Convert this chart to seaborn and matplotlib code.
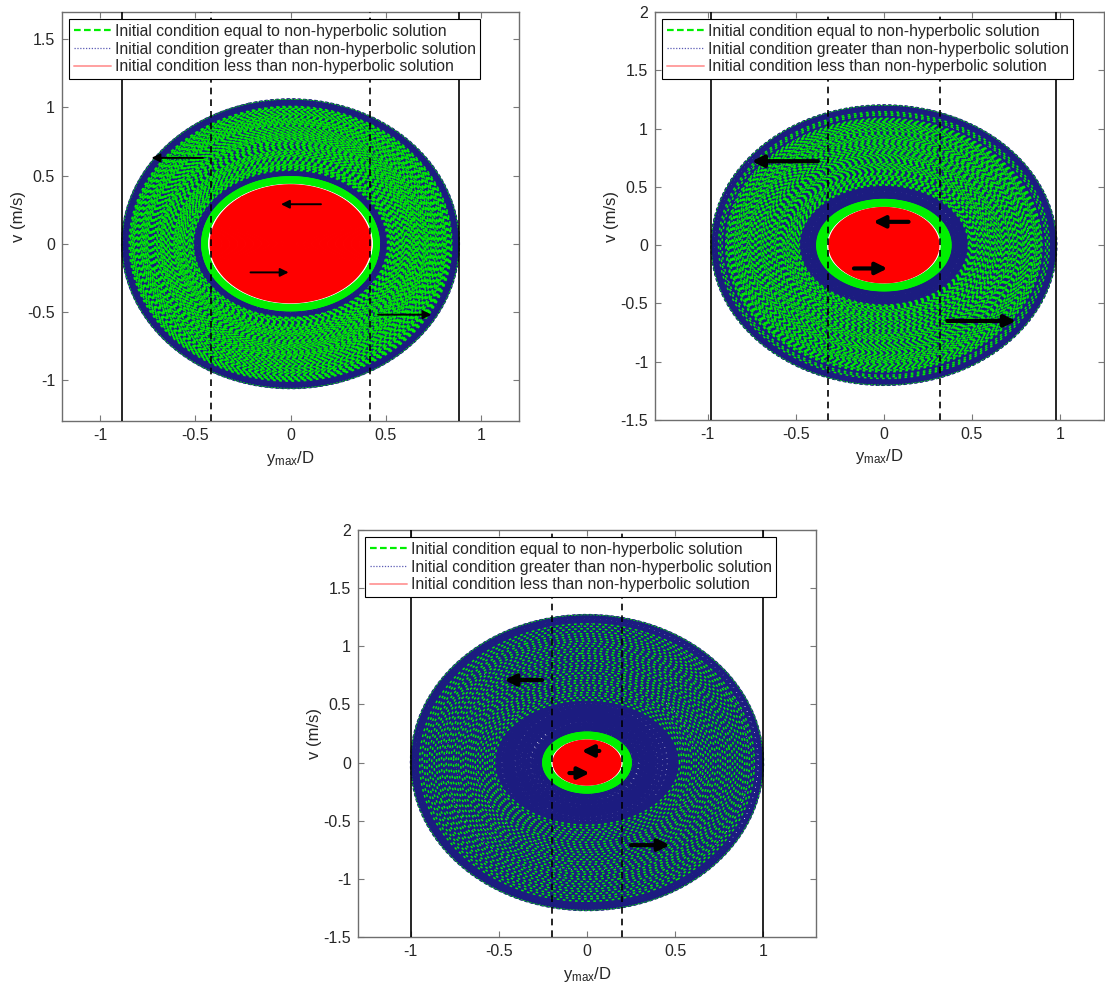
import numpy as np
import pandas as pd
import matplotlib
matplotlib.use("Agg")
import matplotlib.pyplot as plt
import seaborn as sns
from matplotlib.lines import Line2D

# ---------------------------------------------------------------- data
legend_labels = [
    "Initial condition equal to non-hyperbolic solution",
    "Initial condition greater than non-hyperbolic solution",
    "Initial condition less than non-hyperbolic solution",
]
x_ticks = [-1, -0.5, 0, 0.5, 1]
x_tick_labels = ["-1", "-0.5", "0", "0.5", "1"]
y_ticks_top_left = [-1, -0.5, 0, 0.5, 1, 1.5]
y_tick_labels_top_left = ["-1", "-0.5", "0", "0.5", "1", "1.5"]
y_ticks_other = [-1.5, -1, -0.5, 0, 0.5, 1, 1.5, 2]
y_tick_labels_other = ["-1.5", "-1", "-0.5", "0", "0.5", "1", "1.5", "2"]

x_limits = [(-1.2, 1.2), (-1.3, 1.25), (-1.3, 1.3)]
y_limits = [(-1.3, 1.7), (-1.5, 2.0), (-1.5, 2.0)]

# outer boundary of the trajectory region (half-width in y_max/D, half-height in v)
outer_y = [0.885, 0.98, 1.00]
outer_v = [1.06, 1.20, 1.27]
# blue halo around the central band
halo_y = [0.51, 0.47, 0.50]
halo_v = [0.54, 0.50, 0.50]
# outer edge of the green band (equal initial condition)
band_y = [0.465, 0.38, 0.25]
band_v = [0.49, 0.39, 0.26]
# red core (initial condition below the non-hyperbolic solution)
core_y = [0.42, 0.31, 0.19]
core_v = [0.43, 0.32, 0.19]
# where dashed "equal" orbits sit inside the outer ring (0 = halo, 1 = outer edge)
green_spans = [[(0.0, 0.90)], [(0.02, 0.84), (0.88, 0.92)], [(0.05, 0.90)]]
green_counts = [100, 96, 38]
blue_counts = [240, 300, 340]

# vertical walls (solid) and limits (dashed)
wall_x = [0.885, 0.98, 1.00]
limit_x = [0.42, 0.32, 0.20]

# flow-direction arrows: (tail, head)
outer_arrows = [
    [((-0.46, 0.63), (-0.73, 0.63)), ((0.46, -0.52), (0.74, -0.52))],
    [((-0.375, 0.72), (-0.75, 0.72)), ((0.36, -0.65), (0.75, -0.65))],
    [((-0.255, 0.71), (-0.47, 0.71)), ((0.25, -0.71), (0.47, -0.71))],
]
inner_arrows = [
    [((0.16, 0.29), (-0.05, 0.29)), ((-0.21, -0.21), (-0.01, -0.21))],
    [((0.14, 0.20), (-0.06, 0.20)), ((-0.17, -0.20), (0.02, -0.20))],
    [((0.07, 0.10), (-0.03, 0.10)), ((-0.10, -0.09), (0.015, -0.09))],
]
arrow_width = [1.4, 3.0, 3.0]

GREEN = "#00f000"
NAVY = "#1c1c80"
RED = "#ff0000"
GOLDEN = 2.399963  # golden angle, spreads the start points of successive orbits


def orbit_family(a_lo, a_hi, b_lo, b_hi, n, s_lo=0.0, s_hi=1.0, n_pts=420):
    """Closed orbits whose half-axes run from (a_lo, b_lo) to (a_hi, b_hi)."""
    t = np.linspace(0, 2 * np.pi, n_pts)
    rows = []
    for k, s in enumerate(np.linspace(s_lo, s_hi, n)):
        a = a_lo + (a_hi - a_lo) * s
        b = b_lo + (b_hi - b_lo) * s
        ph = GOLDEN * k
        rows.append(pd.DataFrame({"y": a * np.cos(t + ph), "v": b * np.sin(t + ph), "unit": k}))
    return pd.concat(rows, ignore_index=True)


def draw_family(ax, df, color, ls, lw, cap="butt"):
    sns.lineplot(data=df, x="y", y="v", units="unit", estimator=None, sort=False,
                 color=color, linestyle=ls, linewidth=lw, dash_capstyle=cap,
                 ax=ax, legend=False)


# ---------------------------------------------------------------- style
sns.set_theme(style="white")
plt.rcParams["font.family"] = ["Liberation Sans", "DejaVu Sans"]
plt.rcParams["axes.unicode_minus"] = False
plt.rcParams["mathtext.fontset"] = "custom"
plt.rcParams["mathtext.rm"] = "Liberation Sans"
plt.rcParams["mathtext.it"] = "Liberation Sans:italic"

fig = plt.figure(figsize=(11.05, 9.84), dpi=100)
W, H = 1105.0, 984.0
boxes = [(62, 12, 519, 421), (655, 12, 1104, 420), (358, 530, 816, 937)]

for i, (l, t, r, b) in enumerate(boxes):
    ax = fig.add_axes([l / W, 1 - b / H, (r - l) / W, (b - t) / H])

    # outer ring: dense dotted "greater" orbits as the base
    blue = orbit_family(band_y[i] - 0.005, outer_y[i], band_v[i] - 0.005, outer_v[i], blue_counts[i])
    draw_family(ax, blue, NAVY, ":", 1.5, cap="round")

    # dashed "equal" orbits threaded through the ring
    for s_lo, s_hi in green_spans[i]:
        n = max(3, int(green_counts[i] * (s_hi - s_lo)))
        green = orbit_family(halo_y[i], outer_y[i], halo_v[i], outer_v[i], n, s_lo, s_hi)
        draw_family(ax, green, GREEN, (0, (1.8, 2.4)), 1.05)
    rim = orbit_family(outer_y[i], outer_y[i], outer_v[i], outer_v[i], 1, 1.0, 1.0)
    draw_family(ax, rim, GREEN, (0, (3, 1.5)), 0.5)

    # green band around the core
    band = orbit_family(core_y[i] + 0.018, band_y[i], core_v[i] + 0.018, band_v[i], 30)
    draw_family(ax, band, GREEN, "-", 1.3)

    # red core
    core = orbit_family(0.005, core_y[i], 0.005, core_v[i], 70)
    draw_family(ax, core, RED, "-", 1.4)

    # walls and limits
    for sx in (-1, 1):
        ax.axvline(sx * wall_x[i], color="black", lw=1.2, zorder=5)
        ax.axvline(sx * limit_x[i], color="black", lw=1.2, ls=(0, (4, 3)), zorder=5)

    # arrows
    for tail, head in outer_arrows[i] + inner_arrows[i]:
        ax.annotate("", xy=head, xytext=tail, zorder=6,
                    arrowprops=dict(arrowstyle="-|>", color="black", lw=arrow_width[i],
                                    mutation_scale=8 + 3 * arrow_width[i], shrinkA=0, shrinkB=0))

    ax.set_xlim(*x_limits[i])
    ax.set_ylim(*y_limits[i])
    ax.set_xticks(x_ticks)
    ax.set_xticklabels(x_tick_labels)
    if i == 0:
        ax.set_yticks(y_ticks_top_left)
        ax.set_yticklabels(y_tick_labels_top_left)
    else:
        ax.set_yticks(y_ticks_other)
        ax.set_yticklabels(y_tick_labels_other)
    ax.tick_params(direction="in", length=4, width=0.8, color="#7a7a7a",
                   top=True, right=True, bottom=True, left=True, labelsize=11.5, pad=5)
    for sp in ax.spines.values():
        sp.set_color("#6e6e6e")
        sp.set_linewidth(1.0)
    ax.set_xlabel(r"y$_{\mathrm{max}}$/D", fontsize=12)
    ax.set_ylabel("v (m/s)", fontsize=12, labelpad=1)

    handles = [
        Line2D([], [], color=GREEN, ls=(0, (3, 1.5)), lw=1.6),
        Line2D([], [], color="#5a5ab4", ls=(0, (1, 1.3)), lw=0.9),
        Line2D([], [], color="#ffa0a0", ls="-", lw=1.4),
    ]
    leg = ax.legend(handles, legend_labels, loc="upper left", fontsize=11.3,
                    frameon=True, fancybox=False, framealpha=1, edgecolor="black",
                    borderpad=0.3, labelspacing=0.18, handlelength=2.4,
                    handletextpad=0.2, borderaxespad=0.45)
    leg.get_frame().set_linewidth(0.8)
    leg.set_zorder(10)

fig.savefig("out.png", dpi=100)
